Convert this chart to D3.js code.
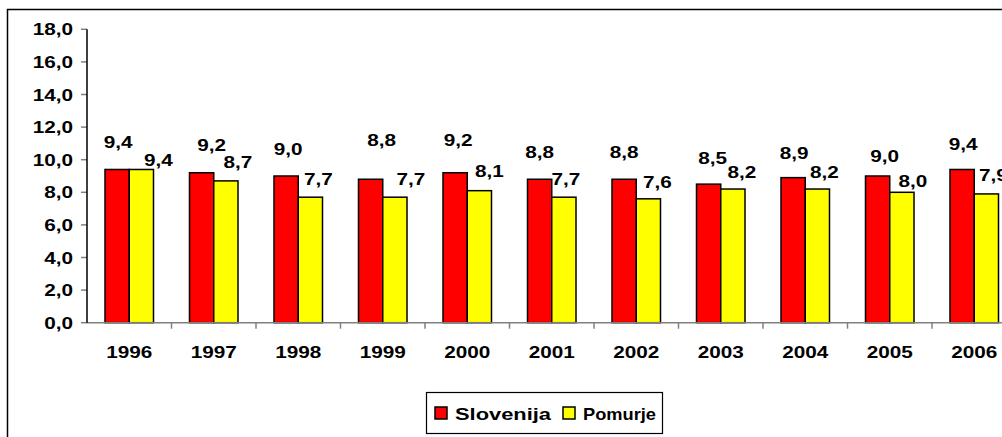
<!DOCTYPE html>
<html>
<head>
<meta charset="utf-8">
<script src="https://cdn.jsdelivr.net/npm/d3@7"></script>
<style>
  body { margin: 0; background: #fff; }
  text { font-family: "Liberation Sans", Arial, sans-serif; font-weight: bold; font-size: 17px; fill: #000; }
</style>
</head>
<body>
<svg id="chart" width="1002" height="437"></svg>
<script>
var years = ["1996","1997","1998","1999","2000","2001","2002","2003","2004","2005","2006"];
var slovenija = [9.4, 9.2, 9.0, 8.8, 9.2, 8.8, 8.8, 8.5, 8.9, 9.0, 9.4];
var pomurje   = [9.4, 8.7, 7.7, 7.7, 8.1, 7.7, 7.6, 8.2, 8.2, 8.0, 7.9];
var seriesNames = ["Slovenija", "Pomurje"];
var yTicks = [0, 2, 4, 6, 8, 10, 12, 14, 16, 18];

// label placement tweaks (dx from bar centre, gap above bar top), like the hand-moved excel labels
var nudgeRed = [[1,21],[10,22],[2,21],[11,33],[3,27],[0,21],[0,21],[4,20],[1,19],[7,14],[1,19]];
var nudgeYel = [[17,3],[12,13],[8,12],[16,12],[10,14],[2,12],[9,11],[9,11],[7,11],[11,5],[7,13]];

var colors = ["#ff0000", "#ffff00"];
var stretch = 1.22;

var svg = d3.select("#chart");

var y = d3.scaleLinear().domain([0, 18]).range([322.7, 29.3]);
var x0 = d3.scaleBand().domain(years).range([87, 87 + 84.5 * years.length]);
var x1 = d3.scaleBand().domain(seriesNames).range([18, 66.5]);

var fmt = function(v){ return d3.format(".1f")(v).replace(".", ","); };

function stext(g, x, yy, str, anchor) {
  return g.append("text")
    .attr("transform", "translate(" + x + "," + yy + ") scale(" + stretch + ",1)")
    .attr("text-anchor", anchor || "middle")
    .text(str);
}

// outer frame
svg.append("rect")
  .attr("x", 7.5).attr("y", 9.5)
  .attr("width", 1100).attr("height", 500)
  .attr("fill", "none").attr("stroke", "#000").attr("stroke-width", 1.5);

// y axis
var yAxis = svg.append("g");
yTicks.forEach(function(t){
  yAxis.append("line")
    .attr("x1", 81).attr("x2", 87)
    .attr("y1", y(t)).attr("y2", y(t))
    .attr("stroke", "#808080").attr("stroke-width", 1.5);
  stext(yAxis, 73, y(t) + 6, fmt(t), "end");
});

// bars
var data = years.map(function(yr, i){
  return { year: yr, i: i, vals: [slovenija[i], pomurje[i]] };
});

var groups = svg.selectAll(".grp")
  .data(data)
 .enter().append("g")
  .attr("class", "grp")
  .attr("transform", function(d){ return "translate(" + x0(d.year) + ",0)"; });

groups.selectAll("rect")
  .data(function(d){ return d.vals.map(function(v, k){ return { k: k, v: v }; }); })
 .enter().append("rect")
  .attr("x", function(d){ return x1(seriesNames[d.k]); })
  .attr("width", x1.bandwidth())
  .attr("y", function(d){ return y(d.v); })
  .attr("height", function(d){ return y(0) - y(d.v); })
  .attr("fill", function(d){ return colors[d.k]; })
  .attr("stroke", "#000").attr("stroke-width", 1.5);

// value labels
groups.each(function(d){
  var g = d3.select(this);
  d.vals.forEach(function(v, k){
    var n = (k === 0 ? nudgeRed : nudgeYel)[d.i];
    var cx = x1(seriesNames[k]) + x1.bandwidth() / 2 + n[0];
    stext(g, cx, y(v) - n[1], fmt(v), "middle");
  });
});

// x axis
svg.append("line")
  .attr("x1", 87).attr("x2", 1002)
  .attr("y1", y(0)).attr("y2", y(0))
  .attr("stroke", "#808080").attr("stroke-width", 1.5);
years.forEach(function(yr, i){
  if (i > 0) {
    svg.append("line")
      .attr("x1", x0(yr)).attr("x2", x0(yr))
      .attr("y1", y(0)).attr("y2", y(0) + 6)
      .attr("stroke", "#808080").attr("stroke-width", 1.5);
  }
  stext(svg, x0(yr) + x0.bandwidth() / 2, 358, yr, "middle");
});

// y axis line on top
svg.append("line")
  .attr("x1", 87).attr("x2", 87)
  .attr("y1", y(18)).attr("y2", y(0))
  .attr("stroke", "#000").attr("stroke-width", 1.5);

// legend
var leg = svg.append("g");
leg.append("rect")
  .attr("x", 426.5).attr("y", 392.5)
  .attr("width", 236).attr("height", 41)
  .attr("fill", "#fff").attr("stroke", "#000").attr("stroke-width", 1.2);
var legX = [435, 563]
  , legW = [96, 73];
seriesNames.forEach(function(name, k){
  leg.append("rect")
    .attr("x", legX[k]).attr("y", 407)
    .attr("width", 12).attr("height", 12)
    .attr("fill", colors[k]).attr("stroke", "#000").attr("stroke-width", 1.5);
  leg.append("text")
    .attr("x", legX[k] + 20).attr("y", 420)
    .attr("textLength", legW[k])
    .attr("lengthAdjust", "spacingAndGlyphs")
    .text(name);
});
</script>
</body>
</html>
